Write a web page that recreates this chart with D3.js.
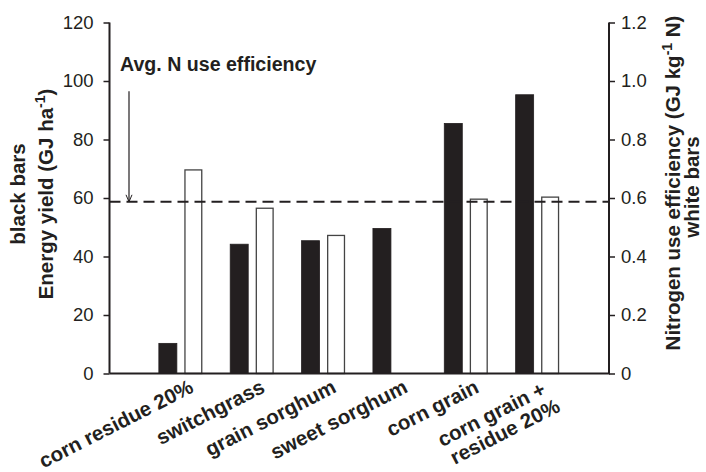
<!DOCTYPE html>
<html>
<head>
<meta charset="utf-8">
<script src="https://cdn.jsdelivr.net/npm/d3@7"></script>
<style>
  html, body { margin: 0; padding: 0; background: #fff; }
  svg { display: block; }
  text { font-family: "Liberation Sans", Arial, sans-serif; fill: #231f20; }
</style>
</head>
<body>
<svg id="chart" width="706" height="472"></svg>
<script>
// ---- data ----
const categories = [["corn residue 20%"], ["switchgrass"], ["grain sorghum"], ["sweet sorghum"], ["corn grain"], ["corn grain +", "residue 20%"]];
const energyYield = [10.3, 44.2, 45.4, 49.6, 85.5, 95.3];          // GJ/ha, black bars (left axis)
const nUseEfficiency = [0.696, 0.565, 0.472, null, 0.596, 0.603];   // GJ/kg N, white bars (right axis)
const avgNUE = 0.587;
const leftTicks = [0, 20, 40, 60, 80, 100, 120];
const rightTicks = [0, 0.2, 0.4, 0.6, 0.8, 1.0, 1.2];
const rightTickLabels = ["0", "0.2", "0.4", "0.6", "0.8", "1.0", "1.2"];

// ---- layout ----
const ink = "#231f20";
const L = 109.5, R = 609, T = 22.5, B = 373.5;
const svg = d3.select("#chart");

const keys = categories.map(c => c.join(" "));
const x = d3.scalePoint().domain(keys).range([L, R]).padding(1);
const sub = d3.scaleBand().domain(["black", "white"]).range([-22, 21.5]).paddingInner(0.294);
const y = d3.scaleLinear().domain([0, 120]).range([B, T]);
const yR = d3.scaleLinear().domain([0, 1.2]).range([B, T]);

// bars
const g = svg.append("g");
keys.forEach((k, i) => {
  const cx = x(k);
  g.append("rect")
    .attr("x", cx + sub("black")).attr("width", sub.bandwidth())
    .attr("y", y(energyYield[i])).attr("height", y(0) - y(energyYield[i]))
    .attr("fill", ink).attr("stroke", ink).attr("stroke-width", 0.8);
  if (nUseEfficiency[i] != null) {
    g.append("rect")
      .attr("x", cx + sub("white") + 0.6).attr("width", sub.bandwidth() - 1.2)
      .attr("y", yR(nUseEfficiency[i])).attr("height", yR(0) - yR(nUseEfficiency[i]))
      .attr("fill", "#fff").attr("stroke", "#444").attr("stroke-width", 1.3);
  }
});

// dashed average line
svg.append("line")
  .attr("x1", L).attr("x2", R).attr("y1", yR(avgNUE)).attr("y2", yR(avgNUE))
  .attr("stroke", ink).attr("stroke-width", 2).attr("stroke-dasharray", "11,6");

// axes
const axL = svg.append("g").attr("transform", `translate(${L},0)`)
  .call(d3.axisLeft(y).tickValues(leftTicks).tickSize(6).tickPadding(10).tickFormat(d3.format("d")));
const axR = svg.append("g").attr("transform", `translate(${R},0)`)
  .call(d3.axisRight(yR).tickValues(rightTicks).tickSize(6).tickPadding(6).tickFormat((d, i) => rightTickLabels[i]));
[axL, axR].forEach(a => {
  a.select(".domain").attr("stroke", ink).attr("stroke-width", 2).attr("d", `M0,${T}V${B}`);
  a.selectAll(".tick line").attr("stroke", ink).attr("stroke-width", 1.5);
  a.selectAll(".tick text").attr("font-size", 18.5).attr("fill", ink).style("font-family", '"Liberation Sans", Arial, sans-serif');
});
svg.append("line").attr("x1", L).attr("x2", R + 1).attr("y1", B).attr("y2", B)
  .attr("stroke", ink).attr("stroke-width", 2.2);

// category labels
keys.forEach((k, i) => {
  const lines = categories[i];
  const t = svg.append("text")
    .attr("transform", `translate(${x(k) + 14},${B + 18}) rotate(-27)`)
    .attr("text-anchor", "end").attr("font-size", 20.5).attr("font-weight", "bold");
  lines.forEach((ln, j) => {
    t.append("tspan").attr("x", j === 0 && lines.length > 1 ? -5 : 0).attr("dy", j === 0 ? 0 : "1.05em").text(ln);
  });
});

// left titles
const yMid = 194;
svg.append("text").attr("transform", `translate(25,${yMid}) rotate(-90)`)
  .attr("text-anchor", "middle").attr("font-size", 20.5).attr("font-weight", "bold").text("black bars");
const et = svg.append("text").attr("transform", `translate(53,${yMid}) rotate(-90)`)
  .attr("text-anchor", "middle").attr("font-size", 20.5).attr("font-weight", "bold");
et.append("tspan").text("Energy yield (GJ ha");
et.append("tspan").attr("font-size", 14).attr("dy", -8).text("-1");
et.append("tspan").attr("dy", 8).text(")");

// right titles
const nt = svg.append("text").attr("transform", `translate(680,183) rotate(-90)`)
  .attr("text-anchor", "middle").attr("font-size", 20.5).attr("font-weight", "bold");
nt.append("tspan").text("Nitrogen use efficiency (GJ kg");
nt.append("tspan").attr("font-size", 14).attr("dy", -8).text("-1");
nt.append("tspan").attr("dy", 8).text(" N)");
svg.append("text").attr("transform", `translate(699,187) rotate(-90)`)
  .attr("text-anchor", "middle").attr("font-size", 20.5).attr("font-weight", "bold").text("white bars");

// annotation
svg.append("text").attr("x", L + 10.5).attr("y", y(103.5))
  .attr("font-size", 19.6).attr("font-weight", "bold").text("Avg. N use efficiency");
const ax = L + 19.5, ay0 = y(96.5), ay1 = yR(avgNUE);
svg.append("line").attr("x1", ax).attr("x2", ax).attr("y1", ay0).attr("y2", ay1)
  .attr("stroke", ink).attr("stroke-width", 1.2);
svg.append("path").attr("d", `M${ax - 3},${ay1 - 7}L${ax},${ay1}L${ax + 3},${ay1 - 7}`)
  .attr("fill", "none").attr("stroke", ink).attr("stroke-width", 1);
</script>
</body>
</html>
